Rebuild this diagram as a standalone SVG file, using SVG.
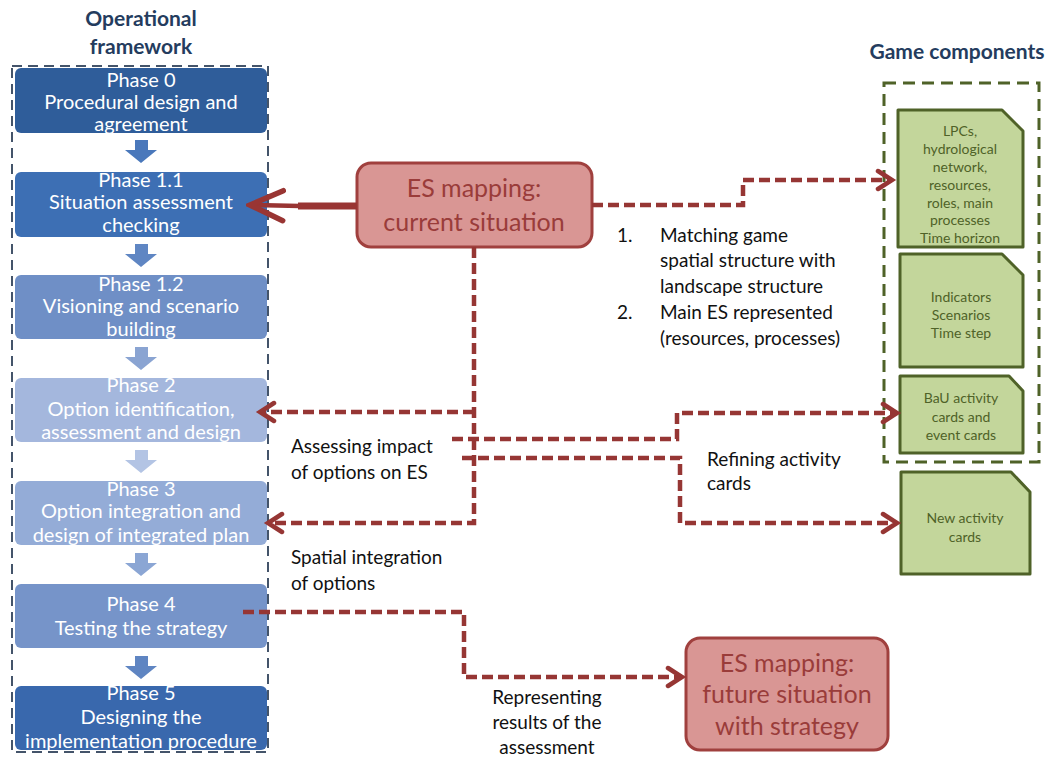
<svg xmlns="http://www.w3.org/2000/svg" width="1056" height="758" viewBox="0 0 1056 758">
  <defs>
    <style>
      text { font-family: Lato, "Open Sans", sans-serif; }
      .title { font-size: 21px; font-weight: bold; fill: #243c5e; text-anchor: middle; }
      .phase-text { font-size: 20px; fill: #ffffff; text-anchor: middle; }
      .es-box { fill: #d99694; stroke: #a0403e; stroke-width: 3; }
      .es-text { font-size: 25px; fill: #9a3c3a; text-anchor: middle; }
      .card { fill: #c3d69b; stroke: #4f6228; stroke-width: 3; stroke-linejoin: round; }
      .card-text { font-size: 14px; fill: #4f6228; text-anchor: middle; }
      .label { font-size: 19px; fill: #111111; }
      .link { fill: none; stroke: #963634; stroke-width: 4.5; stroke-dasharray: 11 5; }
      .frame-blue { fill: none; stroke: #44546a; stroke-width: 2; stroke-dasharray: 10 6; }
      .frame-green { fill: none; stroke: #4f6228; stroke-width: 3; stroke-dasharray: 12 7; }
    </style>
    <marker id="chev" markerUnits="userSpaceOnUse" markerWidth="24" markerHeight="24" viewBox="-16 -12 20 24" refX="0" refY="0" orient="auto">
      <path d="M-14,-9 L0,0 L-14,9" fill="none" stroke="#963634" stroke-width="4.5" stroke-dasharray="none" stroke-linecap="round" stroke-linejoin="miter"/>
    </marker>
    <marker id="chev-big" markerUnits="userSpaceOnUse" markerWidth="40" markerHeight="40" viewBox="-36 -20 40 40" refX="0" refY="0" orient="auto">
      <path d="M-33,-15 L0,0 L-33,15" fill="none" stroke="#993533" stroke-width="5.5" stroke-linecap="round"/>
    </marker>
  </defs>

  <rect width="1056" height="758" fill="#ffffff"/>

  <!-- Operational framework column -->
  <text class="title" x="141" y="26">Operational</text>
  <text class="title" x="141" y="54">framework</text>
  <rect class="frame-blue" x="12" y="66" width="256" height="686"/>

  <g id="phase0">
    <rect x="15" y="68" width="252" height="65" rx="6" fill="#2f5d9a"/>
    <text class="phase-text" x="141" y="87">Phase 0</text>
    <text class="phase-text" x="141" y="109">Procedural design and</text>
    <text class="phase-text" x="141" y="131">agreement</text>
  </g>
  <g id="phase1-1">
    <rect x="15" y="172" width="252" height="65" rx="6" fill="#3d6fb4"/>
    <text class="phase-text" x="141" y="187">Phase 1.1</text>
    <text class="phase-text" x="141" y="209">Situation assessment</text>
    <text class="phase-text" x="141" y="232">checking</text>
  </g>
  <g id="phase1-2">
    <rect x="15" y="275" width="252" height="64" rx="6" fill="#6f8fc6"/>
    <text class="phase-text" x="141" y="291">Phase 1.2</text>
    <text class="phase-text" x="141" y="313">Visioning and scenario</text>
    <text class="phase-text" x="141" y="336">building</text>
  </g>
  <g id="phase2">
    <rect x="15" y="378" width="252" height="64" rx="6" fill="#a4b7dd"/>
    <text class="phase-text" x="141" y="392">Phase 2</text>
    <text class="phase-text" x="141" y="416">Option identification,</text>
    <text class="phase-text" x="141" y="439">assessment and design</text>
  </g>
  <g id="phase3">
    <rect x="15" y="481" width="252" height="64" rx="6" fill="#94acd7"/>
    <text class="phase-text" x="141" y="496">Phase 3</text>
    <text class="phase-text" x="141" y="518">Option integration and</text>
    <text class="phase-text" x="141" y="542">design of integrated plan</text>
  </g>
  <g id="phase4">
    <rect x="15" y="584" width="252" height="64" rx="6" fill="#7694c9"/>
    <text class="phase-text" x="141" y="611">Phase 4</text>
    <text class="phase-text" x="141" y="635">Testing the strategy</text>
  </g>
  <g id="phase5">
    <rect x="15" y="686" width="252" height="64" rx="6" fill="#3968ad"/>
    <text class="phase-text" x="141" y="700">Phase 5</text>
    <text class="phase-text" x="141" y="724">Designing the</text>
    <text class="phase-text" x="141" y="748">implementation procedure</text>
  </g>

  <!-- block arrows between phases -->
  <g id="phase-flow">
    <path d="M135,140 H148 V150 H157 L141,163 L125,150 H135 Z" fill="#4a78bb"/>
    <path d="M135,244 H148 V254 H157 L141,267 L125,254 H135 Z" fill="#5f86c3"/>
    <path d="M135,347 H148 V357 H157 L141,370 L125,357 H135 Z" fill="#8aa4d2"/>
    <path d="M135,450 H148 V460 H157 L141,473 L125,460 H135 Z" fill="#b3c4e4"/>
    <path d="M135,553 H148 V563 H157 L141,576 L125,563 H135 Z" fill="#8ba6d4"/>
    <path d="M135,656 H148 V666 H157 L141,679 L125,666 H135 Z" fill="#5f85c2"/>
  </g>

  <!-- Game components column -->
  <text class="title" x="957" y="59">Game components</text>
  <rect class="frame-green" x="884" y="83" width="155" height="379"/>

  <g id="card-structure">
    <path class="card" d="M898,110 H1002 L1023,131 V247 H898 Z"/>
    <text class="card-text" x="960" y="136">LPCs,</text>
    <text class="card-text" x="960" y="154">hydrological</text>
    <text class="card-text" x="960" y="172">network,</text>
    <text class="card-text" x="960" y="190">resources,</text>
    <text class="card-text" x="960" y="208">roles, main</text>
    <text class="card-text" x="960" y="225">processes</text>
    <text class="card-text" x="960" y="243">Time horizon</text>
  </g>
  <g id="card-indicators">
    <path class="card" d="M900,254 H1002 L1023,275 V367 H900 Z"/>
    <text class="card-text" x="961" y="302">Indicators</text>
    <text class="card-text" x="961" y="320">Scenarios</text>
    <text class="card-text" x="961" y="338">Time step</text>
  </g>
  <g id="card-bau">
    <path class="card" d="M900,376 H1009 L1023,391 V453 H900 Z"/>
    <text class="card-text" x="961" y="403">BaU activity</text>
    <text class="card-text" x="961" y="422">cards and</text>
    <text class="card-text" x="961" y="440">event cards</text>
  </g>
  <g id="card-new">
    <path class="card" d="M901,472 H1011 L1030,492 V574 H901 Z"/>
    <text class="card-text" x="965" y="523">New activity</text>
    <text class="card-text" x="965" y="542">cards</text>
  </g>

  <!-- ES mapping nodes -->
  <g id="es-current">
    <rect class="es-box" x="357" y="163" width="235" height="84" rx="14"/>
    <text class="es-text" x="474" y="197">ES mapping:</text>
    <text class="es-text" x="474" y="231">current situation</text>
  </g>
  <g id="es-future">
    <rect class="es-box" x="686" y="638" width="202" height="112" rx="14"/>
    <text class="es-text" x="787" y="672">ES mapping:</text>
    <text class="es-text" x="787" y="703">future situation</text>
    <text class="es-text" x="787" y="735">with strategy</text>
  </g>

  <!-- connectors -->
  <g id="connectors">
    <path d="M357,206 H298" fill="none" stroke="#993533" stroke-width="7"/>
    <path d="M300,206 L250,205" fill="none" stroke="#993533" stroke-width="4.5" marker-end="url(#chev-big)"/>
    <path class="link" d="M592,205 H743 V180 H892" marker-end="url(#chev)"/>
    <path class="link" d="M474,247 V523 H268" marker-end="url(#chev)"/>
    <path class="link" d="M474,412 H260" marker-end="url(#chev)"/>
    <path class="link" d="M452,439 H677 V413 H897" marker-end="url(#chev)"/>
    <path class="link" d="M462,458 H680 V523 H897" marker-end="url(#chev)"/>
    <path class="link" d="M243,612 H464 V677 H682" marker-end="url(#chev)"/>
  </g>

  <!-- connector labels -->
  <g id="labels">
    <text class="label" x="617" y="242">1.</text>
    <text class="label" x="660" y="242">Matching game</text>
    <text class="label" x="660" y="267">spatial structure with</text>
    <text class="label" x="660" y="293">landscape structure</text>
    <text class="label" x="617" y="319">2.</text>
    <text class="label" x="660" y="319">Main ES represented</text>
    <text class="label" x="660" y="345">(resources, processes)</text>
    <text class="label" x="291" y="453">Assessing impact</text>
    <text class="label" x="291" y="479">of options on ES</text>
    <text class="label" x="291" y="564">Spatial integration</text>
    <text class="label" x="291" y="590">of options</text>
    <text class="label" x="707" y="466">Refining activity</text>
    <text class="label" x="707" y="490">cards</text>
    <text class="label" x="547" y="704" text-anchor="middle">Representing</text>
    <text class="label" x="547" y="729" text-anchor="middle">results of the</text>
    <text class="label" x="547" y="754" text-anchor="middle">assessment</text>
  </g>
</svg>
